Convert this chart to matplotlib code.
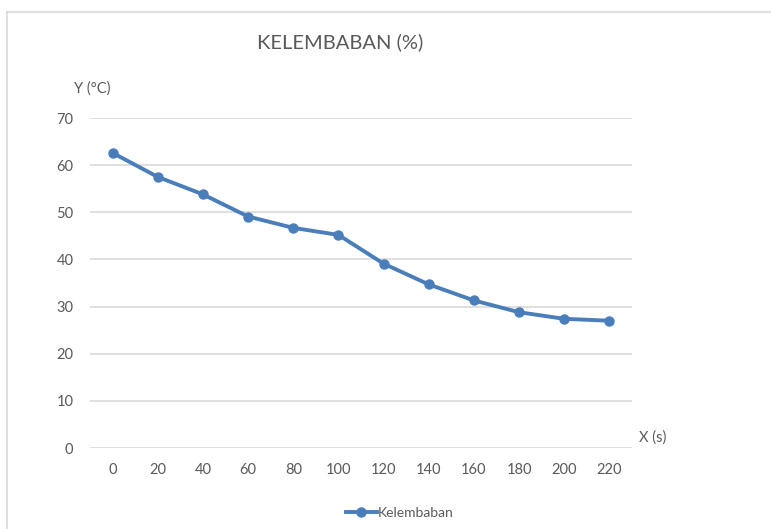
import matplotlib
matplotlib.use("Agg")
import matplotlib.pyplot as plt
from matplotlib.lines import Line2D

categories = ["0", "20", "40", "60", "80", "100", "120", "140", "160", "180", "200", "220"]
kelembaban = [62.6, 57.5, 53.8, 49.1, 46.7, 45.2, 39.1, 34.7, 31.3, 28.8, 27.4, 27.0]
y_ticks = [0, 10, 20, 30, 40, 50, 60, 70]

W, H = 771, 529
fig = plt.figure(figsize=(W / 100, H / 100), dpi=100)
plt.rcParams['font.family'] = ['Lato', 'DejaVu Sans']

txt = "#595959"
line_c = "#4A7EBB"
grid_c = "#D9D9D9"

ax = fig.add_axes([90 / W, 1 - 448 / H, (632 - 90) / W, (448 - 118) / H])
x = list(range(len(categories)))
ax.plot(x, kelembaban, color=line_c, lw=2.8, marker='o', ms=6.5,
        solid_capstyle='round', label="Kelembaban", zorder=3)
ax.set_xlim(-0.5, len(categories) - 0.5)
ax.set_ylim(0, 70)
ax.set_yticks(y_ticks)
ax.set_xticks(x)
ax.set_xticklabels(categories)
ax.grid(axis='y', color=grid_c, lw=1.2)
ax.set_axisbelow(True)
for s in ax.spines.values():
    s.set_visible(False)
ax.tick_params(axis='both', length=0, colors=txt, labelsize=10.5)
ax.tick_params(axis='x', pad=11)
ax.tick_params(axis='y', pad=12)

fig.text(340 / W, 1 - 42 / H, "KELEMBABAN (%)", ha='center', va='center',
         fontsize=14.5, color=txt)
fig.text(92 / W, 1 - 89 / H, "Y (°C)", ha='center', va='center',
         fontsize=10.5, color=txt)
fig.text(653 / W, 1 - 438 / H, "X (s)", ha='center', va='center',
         fontsize=10.5, color=txt)

leg = fig.legend(handles=[Line2D([0], [0], color=line_c, lw=2.8, marker='o', ms=6.5)],
                 labels=["Kelembaban"], loc='center', bbox_to_anchor=(400 / W, 1 - 513 / H),
                 frameon=False, fontsize=10, handlelength=2.2, handletextpad=0.1,
                 labelcolor=txt)

# chart border (cropped)
fig.add_artist(Line2D([7 / W, 1], [1 - 12 / H, 1 - 12 / H], color=grid_c, lw=1.2))
fig.add_artist(Line2D([7 / W, 7 / W], [0, 1 - 12 / H], color=grid_c, lw=1.2))

fig.savefig("out.png", dpi=100, facecolor='white')
